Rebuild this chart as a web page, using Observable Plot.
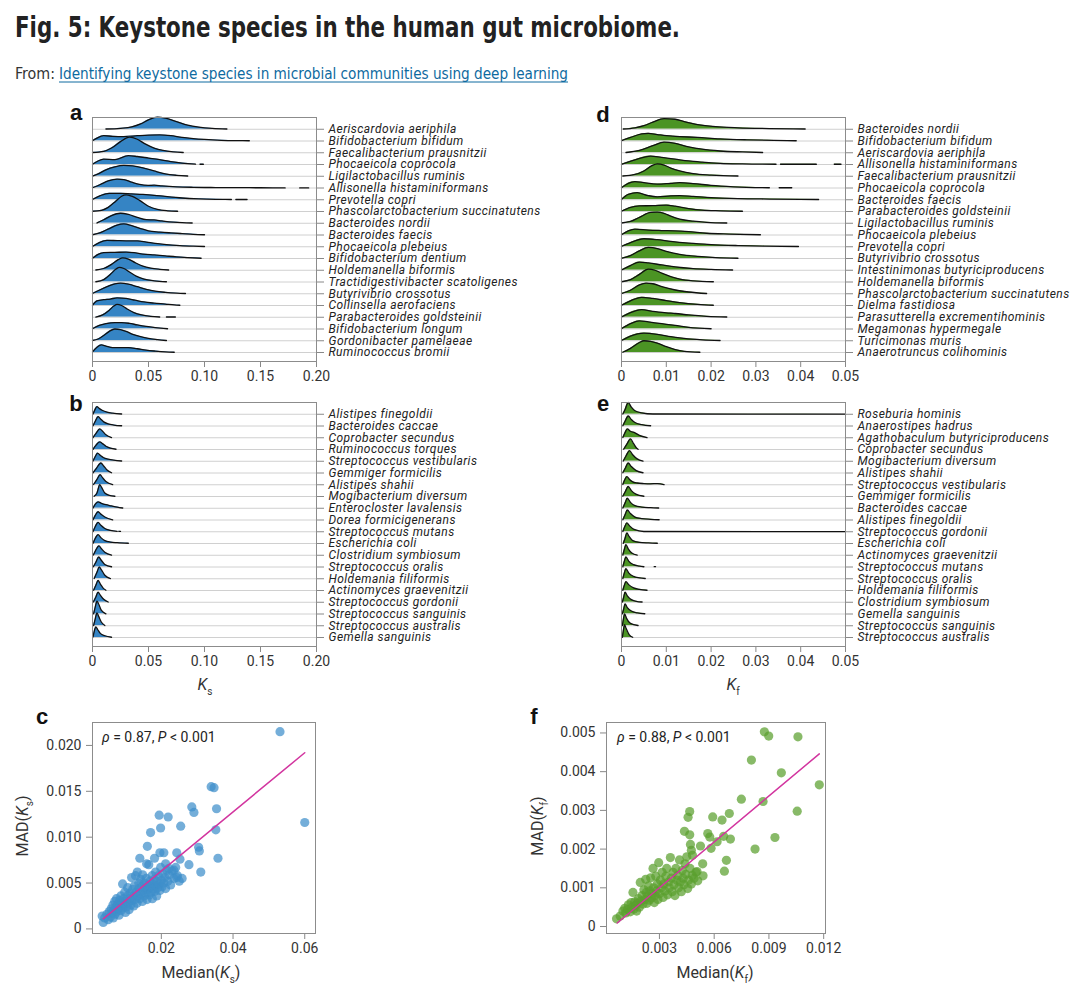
<!DOCTYPE html>
<html><head><meta charset="utf-8">
<script src="https://cdn.jsdelivr.net/npm/d3@7"></script>
<script src="https://cdn.jsdelivr.net/npm/@observablehq/plot@0.6"></script>
<style>
body{margin:0;background:#fff;}
#root{position:relative;width:1080px;height:1001px;overflow:hidden;font-family:Roboto,"Noto Sans",sans-serif;color:#222;}
.panel{position:absolute;}
.ridge [aria-label^="y-axis"] text{font-style:italic;font-size:12px;letter-spacing:0.45px;fill:#222;}
.ridge [aria-label$="tick"], .ridge .tick line{stroke:#888;}
.scatter [aria-label$="tick"], .scatter .tick line{stroke:#888;}
svg text{fill:#333;}
</style></head><body>
<div id="root">
<svg width="1080" height="95" style="position:absolute;left:0;top:0">
<text x="15" y="37" font-family="'Liberation Sans Narrow','DejaVu Sans Condensed',sans-serif" font-weight="bold" font-size="28" style="fill:#222" textLength="665" lengthAdjust="spacingAndGlyphs">Fig. 5: Keystone species in the human gut microbiome.</text>
<text x="15" y="79" font-family="'Liberation Sans Narrow','DejaVu Sans Condensed',sans-serif" font-size="16" style="fill:#333" textLength="40" lengthAdjust="spacingAndGlyphs">From:</text>
<text x="59" y="79" font-family="'Liberation Sans Narrow','DejaVu Sans Condensed',sans-serif" font-size="16" style="fill:#0e6aa0" textLength="509" lengthAdjust="spacingAndGlyphs">Identifying keystone species in microbial communities using deep learning</text>
<line x1="59" x2="568" y1="82" y2="82" stroke="#0e6aa0" stroke-width="1"/>
</svg>
</div>
<script>
// ---------------- DATA ----------------
const ticksKs = [0, 0.05, 0.1, 0.15, 0.2];
const ticksKf = [0, 0.01, 0.02, 0.03, 0.04, 0.05];

const speciesA = ["Aeriscardovia aeriphila","Bifidobacterium bifidum","Faecalibacterium prausnitzii","Phocaeicola coprocola","Ligilactobacillus ruminis","Allisonella histaminiformans","Prevotella copri","Phascolarctobacterium succinatutens","Bacteroides nordii","Bacteroides faecis","Phocaeicola plebeius","Bifidobacterium dentium","Holdemanella biformis","Tractidigestivibacter scatoligenes","Butyrivibrio crossotus","Collinsella aerofaciens","Parabacteroides goldsteinii","Bifidobacterium longum","Gordonibacter pamelaeae","Ruminococcus bromii"];
// ridge outlines: [Ks, height in row units]; null = gap
const ridgesA = [
 [[0.012,0.02],[0.025,0.08],[0.035,0.2],[0.043,0.45],[0.05,0.8],[0.058,1.03],[0.065,0.95],[0.075,0.65],[0.085,0.35],[0.095,0.18],[0.107,0.07],[0.12,0.02]],
 [[0,0.02],[0.004,0.25],[0.01,0.45],[0.018,0.4],[0.028,0.38],[0.04,0.45],[0.05,0.5],[0.06,0.52],[0.07,0.45],[0.08,0.3],[0.09,0.2],[0.1,0.13],[0.115,0.06],[0.13,0.03],[0.14,0.02]],
 [[0,0.02],[0.01,0.12],[0.017,0.4],[0.025,0.95],[0.033,1.33],[0.04,1.15],[0.047,0.75],[0.055,0.4],[0.063,0.2],[0.072,0.08],[0.081,0.02]],
 [[0,0.02],[0.005,0.3],[0.01,0.45],[0.02,0.42],[0.032,0.75],[0.04,0.68],[0.05,0.55],[0.06,0.42],[0.07,0.25],[0.08,0.12],[0.092,0.03],[0.094,null],[0.096,0.02],[0.099,0.02]],
 [[0,0.02],[0.005,0.2],[0.012,0.55],[0.02,0.8],[0.028,0.92],[0.036,0.88],[0.045,0.72],[0.055,0.45],[0.065,0.2],[0.075,0.08],[0.085,0.02]],
 [[0,0.02],[0.007,0.3],[0.014,0.6],[0.022,0.75],[0.028,0.72],[0.035,0.5],[0.042,0.3],[0.05,0.22],[0.055,0.24],[0.062,0.18],[0.075,0.1],[0.09,0.06],[0.11,0.04],[0.13,0.03],[0.15,0.02],[0.172,0.01],[0.178,null],[0.185,0.01],[0.193,0.01]],
 [[0,0.02],[0.007,0.35],[0.015,0.55],[0.025,0.55],[0.035,0.5],[0.045,0.45],[0.055,0.38],[0.065,0.28],[0.08,0.15],[0.095,0.08],[0.11,0.04],[0.124,0.02],[0.126,null],[0.128,0.02],[0.138,0.02]],
 [[0,0.02],[0.008,0.1],[0.014,0.35],[0.021,0.9],[0.026,1.3],[0.03,1.42],[0.035,1.3],[0.042,0.95],[0.05,0.45],[0.058,0.18],[0.067,0.06],[0.076,0.02]],
 [[0.004,0.02],[0.01,0.3],[0.017,0.65],[0.025,0.85],[0.032,0.75],[0.04,0.5],[0.048,0.3],[0.055,0.28],[0.062,0.2],[0.072,0.1],[0.08,0.05],[0.089,0.02]],
 [[0,0.02],[0.007,0.2],[0.015,0.55],[0.022,0.85],[0.028,0.95],[0.035,0.8],[0.043,0.55],[0.05,0.35],[0.06,0.25],[0.07,0.18],[0.08,0.12],[0.09,0.06],[0.1,0.02]],
 [[0,0.02],[0.006,0.35],[0.013,0.55],[0.022,0.52],[0.03,0.5],[0.04,0.5],[0.048,0.4],[0.056,0.28],[0.066,0.18],[0.078,0.1],[0.09,0.05],[0.1,0.02]],
 [[0,0.02],[0.005,0.35],[0.01,0.5],[0.02,0.52],[0.03,0.55],[0.037,0.5],[0.045,0.38],[0.055,0.3],[0.065,0.22],[0.075,0.14],[0.085,0.08],[0.097,0.02]],
 [[0.003,0.02],[0.01,0.15],[0.017,0.5],[0.023,0.9],[0.027,1.05],[0.032,0.95],[0.038,0.65],[0.045,0.35],[0.052,0.18],[0.06,0.08],[0.068,0.02]],
 [[0.003,0.02],[0.01,0.2],[0.016,0.65],[0.021,1.1],[0.024,1.25],[0.028,1.15],[0.033,0.85],[0.039,0.5],[0.046,0.25],[0.055,0.1],[0.066,0.02]],
 [[0,0.02],[0.006,0.3],[0.013,0.6],[0.02,0.85],[0.025,0.9],[0.032,0.82],[0.04,0.6],[0.048,0.38],[0.056,0.22],[0.065,0.12],[0.075,0.05],[0.083,0.02]],
 [[0,0.02],[0.004,0.4],[0.01,0.5],[0.016,0.55],[0.022,0.65],[0.03,0.6],[0.038,0.45],[0.046,0.3],[0.055,0.2],[0.065,0.12],[0.073,0.05],[0.078,0.02]],
 [[0.003,0.02],[0.009,0.2],[0.015,0.6],[0.019,0.95],[0.022,1.1],[0.026,1.0],[0.031,0.7],[0.037,0.4],[0.044,0.2],[0.052,0.08],[0.06,0.02],[0.063,null],[0.066,0.02],[0.074,0.02]],
 [[0,0.02],[0.006,0.3],[0.012,0.45],[0.02,0.55],[0.026,0.55],[0.033,0.48],[0.04,0.35],[0.048,0.22],[0.056,0.12],[0.067,0.02]],
 [[0,0.02],[0.005,0.15],[0.01,0.45],[0.015,0.8],[0.02,1.0],[0.025,0.95],[0.03,0.8],[0.036,0.55],[0.043,0.35],[0.05,0.2],[0.058,0.1],[0.066,0.02]],
 [[0,0.05],[0.004,0.45],[0.008,0.65],[0.012,0.55],[0.018,0.42],[0.025,0.42],[0.032,0.42],[0.04,0.32],[0.048,0.2],[0.056,0.12],[0.065,0.05],[0.073,0.02]]
];

const speciesB = ["Alistipes finegoldii","Bacteroides caccae","Coprobacter secundus","Ruminococcus torques","Streptococcus vestibularis","Gemmiger formicilis","Alistipes shahii","Mogibacterium diversum","Enterocloster lavalensis","Dorea formicigenerans","Streptococcus mutans","Escherichia coli","Clostridium symbiosum","Streptococcus oralis","Holdemania filiformis","Actinomyces graevenitzii","Streptococcus gordonii","Streptococcus sanguinis","Streptococcus australis","Gemella sanguinis"];
const ridgesB = [
 [[0.0005,0.02],[0.002,0.35],[0.004,0.65],[0.006,0.5],[0.009,0.32],[0.013,0.18],[0.018,0.09],[0.026,0.02]],
 [[0.0005,0.02],[0.0025,0.4],[0.005,0.8],[0.007,0.62],[0.01,0.35],[0.014,0.18],[0.019,0.08],[0.026,0.02]],
 [[0.0005,0.02],[0.003,0.35],[0.0065,0.75],[0.009,0.55],[0.012,0.25],[0.017,0.02]],
 [[0.0005,0.02],[0.003,0.35],[0.0065,0.65],[0.009,0.5],[0.012,0.28],[0.016,0.12],[0.021,0.02]],
 [[0.0005,0.02],[0.0025,0.4],[0.0045,0.7],[0.007,0.5],[0.01,0.3],[0.014,0.18],[0.019,0.09],[0.026,0.02]],
 [[0.0005,0.02],[0.0035,0.4],[0.0075,0.85],[0.01,0.6],[0.013,0.25],[0.017,0.02]],
 [[0.001,0.02],[0.004,0.45],[0.0068,0.85],[0.009,0.6],[0.012,0.28],[0.018,0.02]],
 [[0.0015,0.02],[0.004,0.3],[0.0065,1.0],[0.008,0.8],[0.011,0.3],[0.015,0.1],[0.02,0.02]],
 [[0.0005,0.02],[0.0025,0.35],[0.005,0.55],[0.008,0.42],[0.012,0.3],[0.017,0.2],[0.022,0.1],[0.027,0.02]],
 [[0.0005,0.02],[0.0025,0.4],[0.005,0.7],[0.0075,0.5],[0.011,0.25],[0.018,0.02]],
 [[0.0005,0.02],[0.0025,0.45],[0.005,0.8],[0.0075,0.55],[0.011,0.28],[0.016,0.12],[0.022,0.03],[0.023,null],[0.0235,0.04],[0.025,0.03]],
 [[0.0005,0.02],[0.0025,0.45],[0.005,0.75],[0.0075,0.5],[0.011,0.25],[0.016,0.12],[0.022,0.07],[0.032,0.02]],
 [[0.0008,0.02],[0.003,0.45],[0.0058,0.8],[0.008,0.55],[0.011,0.25],[0.017,0.02]],
 [[0.0008,0.02],[0.003,0.4],[0.0055,0.85],[0.008,0.55],[0.011,0.22],[0.017,0.02]],
 [[0.0015,0.02],[0.004,0.55],[0.006,1.0],[0.008,0.75],[0.011,0.3],[0.016,0.02]],
 [[0.001,0.02],[0.003,0.45],[0.005,0.85],[0.007,0.55],[0.0095,0.2],[0.012,0.02]],
 [[0.0008,0.02],[0.003,0.45],[0.005,0.85],[0.007,0.6],[0.01,0.25],[0.014,0.02]],
 [[0.001,0.02],[0.0025,0.6],[0.004,1.1],[0.0055,0.85],[0.008,0.3],[0.012,0.02]],
 [[0.001,0.02],[0.0025,0.6],[0.004,1.1],[0.0055,0.8],[0.008,0.3],[0.011,0.02]],
 [[0.0005,0.05],[0.0015,0.5],[0.003,0.9],[0.0045,0.7],[0.007,0.35],[0.011,0.15],[0.017,0.02]]
];

const speciesD = ["Bacteroides nordii","Bifidobacterium bifidum","Aeriscardovia aeriphila","Allisonella histaminiformans","Faecalibacterium prausnitzii","Phocaeicola coprocola","Bacteroides faecis","Parabacteroides goldsteinii","Ligilactobacillus ruminis","Phocaeicola plebeius","Prevotella copri","Butyrivibrio crossotus","Intestinimonas butyriciproducens","Holdemanella biformis","Phascolarctobacterium succinatutens","Dielma fastidiosa","Parasutterella excrementihominis","Megamonas hypermegale","Turicimonas muris","Anaerotruncus colihominis"];
const ridgesD = [
 [[0.0004,0.02],[0.003,0.12],[0.005,0.3],[0.007,0.6],[0.0095,0.9],[0.012,0.85],[0.014,0.65],[0.017,0.4],[0.021,0.22],[0.026,0.12],[0.033,0.06],[0.041,0.02]],
 [[0,0.02],[0.002,0.3],[0.0045,0.6],[0.006,0.65],[0.008,0.55],[0.01,0.45],[0.013,0.38],[0.017,0.3],[0.022,0.18],[0.028,0.1],[0.034,0.05],[0.039,0.02]],
 [[0.001,0.02],[0.004,0.2],[0.007,0.6],[0.0095,0.9],[0.012,0.8],[0.015,0.5],[0.018,0.3],[0.022,0.15],[0.027,0.07],[0.0315,0.02]],
 [[0,0.02],[0.003,0.4],[0.0065,0.72],[0.009,0.6],[0.012,0.45],[0.015,0.3],[0.018,0.2],[0.022,0.1],[0.027,0.05],[0.0345,0.02],[0.035,null],[0.0355,0.02],[0.0435,0.02],[0.045,null],[0.0475,0.02],[0.049,0.02]],
 [[0.0003,0.02],[0.003,0.15],[0.005,0.45],[0.0068,0.9],[0.008,1.05],[0.0095,0.95],[0.011,0.7],[0.013,0.45],[0.016,0.22],[0.02,0.1],[0.026,0.02]],
 [[0,0.02],[0.0015,0.4],[0.003,0.55],[0.005,0.45],[0.008,0.33],[0.011,0.4],[0.013,0.45],[0.016,0.38],[0.02,0.22],[0.025,0.1],[0.033,0.02],[0.034,null],[0.0352,0.02],[0.038,0.02]],
 [[0,0.02],[0.0015,0.45],[0.0035,0.6],[0.006,0.35],[0.008,0.25],[0.011,0.33],[0.013,0.35],[0.016,0.28],[0.02,0.18],[0.026,0.1],[0.033,0.06],[0.044,0.02]],
 [[0,0.02],[0.002,0.35],[0.004,0.48],[0.007,0.5],[0.01,0.55],[0.012,0.45],[0.015,0.25],[0.018,0.12],[0.022,0.06],[0.027,0.02]],
 [[0,0.02],[0.002,0.15],[0.004,0.5],[0.0065,0.92],[0.008,0.95],[0.0095,0.85],[0.011,0.6],[0.013,0.35],[0.016,0.18],[0.019,0.08],[0.0235,0.02]],
 [[0,0.02],[0.0015,0.35],[0.003,0.5],[0.006,0.42],[0.009,0.38],[0.012,0.35],[0.015,0.28],[0.019,0.15],[0.024,0.08],[0.031,0.02]],
 [[0,0.02],[0.002,0.35],[0.005,0.68],[0.008,0.6],[0.011,0.45],[0.015,0.3],[0.02,0.18],[0.026,0.1],[0.032,0.05],[0.0395,0.02]],
 [[0,0.02],[0.002,0.25],[0.004,0.65],[0.006,0.95],[0.008,0.85],[0.01,0.6],[0.013,0.35],[0.017,0.18],[0.021,0.08],[0.026,0.02]],
 [[0,0.02],[0.002,0.4],[0.004,0.7],[0.006,0.62],[0.009,0.45],[0.012,0.28],[0.016,0.14],[0.02,0.07],[0.0248,0.02]],
 [[0,0.02],[0.002,0.2],[0.004,0.65],[0.006,1.1],[0.0075,1.0],[0.009,0.75],[0.011,0.45],[0.013,0.25],[0.016,0.1],[0.0205,0.02]],
 [[0,0.02],[0.002,0.3],[0.004,0.75],[0.0055,0.9],[0.007,0.85],[0.009,0.6],[0.012,0.32],[0.015,0.15],[0.019,0.02]],
 [[0,0.02],[0.002,0.4],[0.0045,0.7],[0.007,0.6],[0.01,0.42],[0.013,0.25],[0.017,0.1],[0.0205,0.02]],
 [[0,0.02],[0.002,0.4],[0.0045,0.65],[0.007,0.5],[0.01,0.38],[0.012,0.32],[0.015,0.2],[0.019,0.08],[0.0235,0.02]],
 [[0,0.02],[0.002,0.45],[0.004,0.7],[0.006,0.6],[0.009,0.45],[0.012,0.3],[0.015,0.14],[0.02,0.02]],
 [[0,0.02],[0.002,0.4],[0.005,0.65],[0.008,0.55],[0.011,0.35],[0.014,0.2],[0.018,0.08],[0.022,0.02]],
 [[0.0003,0.02],[0.002,0.35],[0.004,0.85],[0.005,1.0],[0.0065,0.95],[0.008,0.8],[0.01,0.5],[0.012,0.25],[0.014,0.1],[0.0175,0.02]]
];

const speciesE = ["Roseburia hominis","Anaerostipes hadrus","Agathobaculum butyriciproducens","Coprobacter secundus","Mogibacterium diversum","Alistipes shahii","Streptococcus vestibularis","Gemmiger formicilis","Bacteroides caccae","Alistipes finegoldii","Streptococcus gordonii","Escherichia coli","Actinomyces graevenitzii","Streptococcus mutans","Streptococcus oralis","Holdemania filiformis","Clostridium symbiosum","Gemella sanguinis","Streptococcus sanguinis","Streptococcus australis"];
const ridgesE = [
 [[0.0003,0.02],[0.0008,0.4],[0.0015,1.0],[0.0022,0.6],[0.003,0.3],[0.0045,0.12],[0.007,0.02],[0.05,0.01]],
 [[0.0003,0.02],[0.0008,0.4],[0.0015,0.85],[0.0022,0.55],[0.003,0.3],[0.0045,0.12],[0.0065,0.02]],
 [[0.0003,0.02],[0.0008,0.45],[0.0013,0.75],[0.002,0.55],[0.003,0.42],[0.004,0.2],[0.0057,0.02]],
 [[0.0005,0.02],[0.0012,0.45],[0.002,0.9],[0.0027,0.5],[0.0033,0.15],[0.0037,0.02]],
 [[0.0004,0.02],[0.001,0.45],[0.0018,0.9],[0.0025,0.55],[0.0035,0.2],[0.0048,0.02]],
 [[0.0003,0.02],[0.0009,0.45],[0.0015,0.85],[0.0022,0.55],[0.0032,0.22],[0.0048,0.02]],
 [[0.0003,0.02],[0.0007,0.4],[0.0012,0.7],[0.0018,0.45],[0.0025,0.25],[0.0035,0.15],[0.005,0.1],[0.0065,0.08],[0.008,0.1],[0.0095,0.02]],
 [[0.0003,0.02],[0.0009,0.45],[0.0015,0.85],[0.0022,0.5],[0.0032,0.2],[0.005,0.02]],
 [[0.0003,0.02],[0.0008,0.45],[0.0013,0.85],[0.002,0.5],[0.003,0.22],[0.0045,0.1],[0.0065,0.05],[0.0083,0.02]],
 [[0.0003,0.02],[0.0008,0.45],[0.0013,0.85],[0.002,0.55],[0.003,0.25],[0.0045,0.12],[0.0065,0.06],[0.0084,0.02]],
 [[0.0003,0.02],[0.0007,0.4],[0.0012,0.75],[0.0018,0.5],[0.0028,0.2],[0.005,0.02],[0.05,0.01]],
 [[0.0004,0.02],[0.0008,0.45],[0.0012,0.9],[0.0017,0.6],[0.0025,0.25],[0.004,0.1],[0.006,0.05],[0.008,0.02]],
 [[0.0003,0.02],[0.0006,0.45],[0.001,0.9],[0.0015,0.55],[0.0023,0.2],[0.0035,0.02]],
 [[0.0003,0.02],[0.0006,0.45],[0.001,0.85],[0.0016,0.5],[0.0027,0.2],[0.004,0.08],[0.005,0.02],[0.006,null],[0.0073,0.03],[0.0076,0.03]],
 [[0.0003,0.02],[0.0006,0.45],[0.001,0.85],[0.0016,0.5],[0.0027,0.2],[0.004,0.08],[0.0053,0.02]],
 [[0.0003,0.02],[0.0006,0.4],[0.001,0.75],[0.0016,0.5],[0.0027,0.22],[0.004,0.1],[0.0057,0.02]],
 [[0.0002,0.02],[0.0005,0.45],[0.0008,0.85],[0.0013,0.55],[0.0022,0.22],[0.0033,0.08],[0.0046,0.02]],
 [[0.0002,0.02],[0.0005,0.45],[0.0008,0.85],[0.0013,0.55],[0.0022,0.25],[0.0035,0.1],[0.0052,0.02]],
 [[0.0002,0.02],[0.0004,0.5],[0.0007,1.0],[0.0011,0.65],[0.002,0.2],[0.0037,0.02]],
 [[0.0002,0.02],[0.0004,0.55],[0.0007,1.1],[0.001,0.8],[0.0017,0.25],[0.0025,0.02]]
];

// panel c: [Median(Ks), MAD(Ks)]
const scatterKs = [
 [0.0035,0.0014],[0.0038,0.0007],[0.0042,0.0012],[0.0048,0.0016],[0.0052,0.0010],[0.0055,0.0019],[0.0058,0.0013],[0.0060,0.0022],[0.0062,0.0017],[0.0065,0.0026],
 [0.0066,0.0012],[0.0068,0.0020],[0.0070,0.0030],[0.0071,0.0016],[0.0073,0.0024],[0.0075,0.0033],[0.0076,0.0019],[0.0078,0.0027],[0.0080,0.0022],[0.0082,0.0015],
 [0.0084,0.0031],[0.0085,0.0025],[0.0087,0.0036],[0.0088,0.0020],[0.0090,0.0029],[0.0092,0.0049],[0.0093,0.0023],[0.0095,0.0033],[0.0097,0.0027],[0.0098,0.0040],
 [0.0100,0.0018],[0.0101,0.0030],[0.0103,0.0024],[0.0105,0.0036],[0.0106,0.0045],[0.0108,0.0028],[0.0110,0.0021],[0.0112,0.0033],[0.0113,0.0039],[0.0115,0.0026],
 [0.0117,0.0056],[0.0118,0.0031],[0.0120,0.0043],[0.0122,0.0036],[0.0123,0.0025],[0.0125,0.0047],[0.0127,0.0032],[0.0128,0.0058],[0.0130,0.0040],[0.0132,0.0028],
 [0.0133,0.0062],[0.0135,0.0036],[0.0137,0.0050],[0.0138,0.0044],[0.0140,0.0033],[0.0142,0.0054],[0.0143,0.0038],[0.0145,0.0046],[0.0147,0.0030],[0.0148,0.0059],
 [0.0150,0.0042],[0.0152,0.0036],[0.0153,0.0050],[0.0155,0.0045],[0.0157,0.0039],[0.0158,0.0055],[0.0160,0.0032],[0.0162,0.0048],[0.0163,0.0043],[0.0165,0.0070],
 [0.0166,0.0037],[0.0168,0.0052],[0.0170,0.0046],[0.0172,0.0040],[0.0174,0.0058],[0.0175,0.0033],[0.0177,0.0049],[0.0178,0.0044],[0.0180,0.0054],[0.0182,0.0041],
 [0.0184,0.0062],[0.0185,0.0047],[0.0187,0.0036],[0.0188,0.0052],[0.0190,0.0045],[0.0192,0.0058],[0.0194,0.0049],[0.0196,0.0042],[0.0198,0.0067],[0.0200,0.0053],
 [0.0202,0.0046],[0.0204,0.0060],[0.0207,0.0050],[0.0210,0.0056],[0.0212,0.0044],[0.0215,0.0064],[0.0218,0.0052],[0.0222,0.0059],[0.0226,0.0048],[0.0230,0.0063],
 [0.0235,0.0055],[0.0240,0.0067],[0.0245,0.0058],[0.0250,0.0052],
 [0.0531,0.0215],[0.0600,0.0116],[0.0339,0.0155],[0.0347,0.0154],[0.0285,0.0133],[0.0291,0.0127],[0.0354,0.0131],[0.0352,0.0108],[0.0304,0.0089],[0.0306,0.0085],
 [0.0358,0.0077],[0.0310,0.0062],[0.0277,0.0070],[0.0254,0.0112],[0.0194,0.0124],[0.0219,0.0122],[0.0198,0.0110],[0.0170,0.0105],[0.0161,0.0090],[0.0140,0.0077],
 [0.0159,0.0071],[0.0181,0.0077],[0.0196,0.0083],[0.0207,0.0083],[0.0243,0.0083],[0.0252,0.0076],[0.0235,0.0064],[0.0243,0.0056],[0.0258,0.0055],[0.0212,0.0071],[0.0221,0.0066]
];
const fitKs = [[0.0038,0.0011],[0.0600,0.0192]];
const ticksKsX = [0.02, 0.04, 0.06];
const ticksKsY = [0, 0.005, 0.01, 0.015, 0.02];

// panel f: [Median(Kf), MAD(Kf)]
const scatterKf = [
 [0.00065,0.00020],[0.00085,0.00027],[0.00100,0.00040],[0.00110,0.00047],[0.00115,0.00035],[0.00125,0.00044],[0.00130,0.00056],[0.00140,0.00038],[0.00145,0.00062],[0.00150,0.00050],
 [0.00155,0.00088],[0.00160,0.00045],[0.00165,0.00064],[0.00170,0.00055],[0.00175,0.00040],[0.00180,0.00060],[0.00185,0.00072],[0.00190,0.00050],[0.00195,0.00114],[0.00200,0.00066],
 [0.00205,0.00080],[0.00210,0.00058],[0.00215,0.00095],[0.00220,0.00070],[0.00225,0.00122],[0.00228,0.00088],[0.00232,0.00060],[0.00236,0.00078],[0.00240,0.00105],[0.00245,0.00068],
 [0.00248,0.00092],[0.00252,0.00126],[0.00256,0.00074],[0.00260,0.00085],[0.00265,0.00150],[0.00268,0.00100],[0.00272,0.00062],[0.00276,0.00080],[0.00280,0.00130],[0.00284,0.00092],
 [0.00288,0.00110],[0.00292,0.00070],[0.00296,0.00165],[0.00300,0.00085],[0.00305,0.00120],[0.00310,0.00100],[0.00315,0.00140],[0.00320,0.00075],[0.00325,0.00110],[0.00330,0.00092],
 [0.00335,0.00130],[0.00340,0.00150],[0.00345,0.00082],[0.00350,0.00115],[0.00355,0.00100],[0.00360,0.00178],[0.00365,0.00125],[0.00370,0.00090],[0.00375,0.00140],[0.00380,0.00108],
 [0.00385,0.00080],[0.00390,0.00150],[0.00395,0.00120],[0.00400,0.00132],[0.00405,0.00100],[0.00410,0.00172],[0.00415,0.00115],[0.00420,0.00090],[0.00425,0.00145],[0.00430,0.00125],
 [0.00435,0.00108],[0.00440,0.00162],[0.00445,0.00135],[0.00450,0.00180],[0.00455,0.00098],[0.00460,0.00120],[0.00468,0.00150],[0.00475,0.00110],[0.00480,0.00132],[0.00490,0.00125],
 [0.00500,0.00140],[0.00510,0.00118],
 [0.00875,0.00503],[0.00899,0.00492],[0.01059,0.00490],[0.00804,0.00430],[0.00968,0.00397],[0.01176,0.00366],[0.00749,0.00329],[0.00868,0.00323],[0.01055,0.00298],[0.00933,0.00230],
 [0.00824,0.00200],[0.00466,0.00297],[0.00457,0.00282],[0.00592,0.00283],[0.00643,0.00275],[0.00683,0.00292],[0.00689,0.00226],[0.00667,0.00171],[0.00656,0.00143],[0.00437,0.00246],
 [0.00466,0.00237],[0.00565,0.00240],[0.00576,0.00231],[0.00583,0.00202],[0.00616,0.00219],[0.00652,0.00233],[0.00525,0.00208],[0.00470,0.00212],[0.00475,0.00197],[0.00481,0.00184],
 [0.00537,0.00162],[0.00539,0.00131],[0.00506,0.00142]
];
const fitKf = [[0.00069,0.00009],[0.01176,0.00446]];
const ticksKfX = [0.003, 0.006, 0.009, 0.012];
const ticksKfY = [0, 0.001, 0.002, 0.003, 0.004, 0.005];

const blueFill = "#3584c4", greenFill = "#4b9424";
const blueDot = "#3f8fca", greenDot = "#5a9f2e", fitColor = "#d2359f";

// ---------------- DRAWING ----------------
const root = document.getElementById("root");
function place(node, left, top, cls) {
  const d = document.createElement("div");
  d.className = "panel " + cls;
  d.style.left = left + "px"; d.style.top = top + "px";
  d.appendChild(node); root.appendChild(d);
}
function label(html, x, y, css, anchor) {
  const d = document.createElement("div");
  d.innerHTML = html;
  const tx = anchor === "start" ? "0" : "-50%";
  d.style.cssText = `position:absolute;left:${x}px;top:${y}px;transform:translate(${tx},-50%);white-space:nowrap;line-height:1;` + (css || "");
  root.appendChild(d);
}
const ROW = 11.75;
const fmtKs = d => d === 0 ? "0" : d3.format(".2f")(d);
const fmtKf = d => d === 0 ? "0" : d3.format(".2f")(d);

function ridgePlot(species, ridges, xDomain, xTicks, xFmt, fill, o) {
  const n = species.length;
  const plotH = o.height - o.mt - o.mb;
  const y0 = -9 / ROW, y1 = y0 + plotH / ROW;
  const marks = [];
  species.forEach((name, i) => {
    const base = n - 1 - i;
    const pts = ridges[i].map(([x, h]) => ({x, lo: base, hi: h == null ? NaN : base + h}));
    marks.push(Plot.areaY(pts, {x: "x", y1: "lo", y2: "hi", fill, curve: "monotone-x"}));
    marks.push(Plot.ruleY([base], {stroke: "#d0d0d0", strokeWidth: 1}));
    marks.push(Plot.lineY(pts, {x: "x", y: "hi", stroke: "#111", strokeWidth: 1.3, curve: "monotone-x"}));
  });
  marks.push(Plot.frame({stroke: "#8c8c8c"}));
  return Plot.plot({
    width: o.width, height: o.height, marginLeft: o.ml, marginRight: o.mr, marginTop: o.mt, marginBottom: o.mb,
    style: {fontFamily: "Roboto, sans-serif", fontSize: "14px", color: "#333", background: "transparent", overflow: "visible"},
    x: {domain: xDomain, ticks: xTicks, tickFormat: xFmt, tickSize: 6, tickPadding: 4, label: null},
    y: {domain: [y0, y1], axis: "right", ticks: species.map((_, i) => n - 1 - i),
        tickFormat: v => species[n - 1 - Math.round(v)], tickSize: 7, tickPadding: 5, label: null},
    marks
  });
}

function scatterPlot(pts, fit, xDomain, yDomain, xTicks, xFmt, yTicks, yFmt, color, o) {
  return Plot.plot({
    width: o.width, height: o.height, marginLeft: o.ml, marginRight: o.mr, marginTop: o.mt, marginBottom: o.mb,
    style: {fontFamily: "Roboto, sans-serif", fontSize: "14px", color: "#333", background: "transparent", overflow: "visible"},
    x: {domain: xDomain, ticks: xTicks, tickFormat: xFmt, tickSize: 6, tickPadding: 4, label: null},
    y: {domain: yDomain, ticks: yTicks, tickFormat: yFmt, tickSize: 6, tickPadding: 5, label: null},
    marks: [
      Plot.dot(pts, {x: d => d[0], y: d => d[1], r: 4.6, fill: color, fillOpacity: 0.72, stroke: null}),
      Plot.line(fit, {x: d => d[0], y: d => d[1], stroke: fitColor, strokeWidth: 1.5}),
      Plot.frame({stroke: "#8c8c8c"})
    ]
  });
}

const geomL = {width: 540, height: 290, ml: 92, mr: 224, mt: 17, mb: 29};
const geomR = {width: 550, height: 290, ml: 91, mr: 235, mt: 17, mb: 29};
place(ridgePlot(speciesA, ridgesA, [0, 0.2], ticksKs, fmtKs, blueFill, geomL), 0, 100, "ridge");
place(ridgePlot(speciesB, ridgesB, [0, 0.2], ticksKs, fmtKs, blueFill, geomL), 0, 385, "ridge");
place(ridgePlot(speciesD, ridgesD, [0, 0.05], ticksKf, fmtKf, greenFill, geomR), 530, 100, "ridge");
place(ridgePlot(speciesE, ridgesE, [0, 0.05], ticksKf, fmtKf, greenFill, geomR), 530, 385, "ridge");

place(scatterPlot(scatterKs, fitKs, [0.0008, 0.063], [-0.0005, 0.0225], ticksKsX, d3.format(".2f"), ticksKsY,
  d => d === 0 ? "0" : d3.format(".3f")(d), blueDot, {width: 340, height: 301, ml: 92, mr: 25, mt: 22, mb: 68}), 0, 700, "scatter");
place(scatterPlot(scatterKf, fitKf, [0.0001, 0.0121], [-0.00018, 0.00527], ticksKfX, d3.format(".3f"), ticksKfY,
  d => d === 0 ? "0" : d3.format(".3f")(d), greenDot, {width: 340, height: 301, ml: 86, mr: 35, mt: 22, mb: 68}), 520, 700, "scatter");

// panel letters
const letterCss = "font-family:'Liberation Sans',Arial,sans-serif;font-weight:bold;font-size:22px;color:#111;";
label("a", 76, 113, letterCss); label("b", 76, 404, letterCss);
label("d", 603, 115, letterCss); label("e", 603, 404, letterCss);
label("c", 42, 717, letterCss); label("f", 534, 717, letterCss);

// axis titles
const axCss = "font-family:Roboto,sans-serif;font-size:16px;color:#333;";
label("<i>K</i><sub style='font-size:10px'>s</sub>", 205, 687, axCss);
label("<i>K</i><sub style='font-size:10px'>f</sub>", 733, 687, axCss);
label("Median(<i>K</i><sub style='font-size:10px'>s</sub>)", 201, 975, axCss);
label("Median(<i>K</i><sub style='font-size:10px'>f</sub>)", 715, 975, axCss);
label("MAD(<i>K</i><sub style='font-size:10px'>s</sub>)", 25, 826, axCss + "transform:translate(-50%,-50%) rotate(-90deg);");
label("MAD(<i>K</i><sub style='font-size:10px'>f</sub>)", 540, 826, axCss + "transform:translate(-50%,-50%) rotate(-90deg);");
const statCss = "font-family:Roboto,sans-serif;font-size:14px;color:#222;";
label("<i>ρ</i> = 0.87, <i>P</i> &lt; 0.001", 102, 737, statCss, "start");
label("<i>ρ</i> = 0.88, <i>P</i> &lt; 0.001", 617, 737, statCss, "start");
</script>
</body></html>
